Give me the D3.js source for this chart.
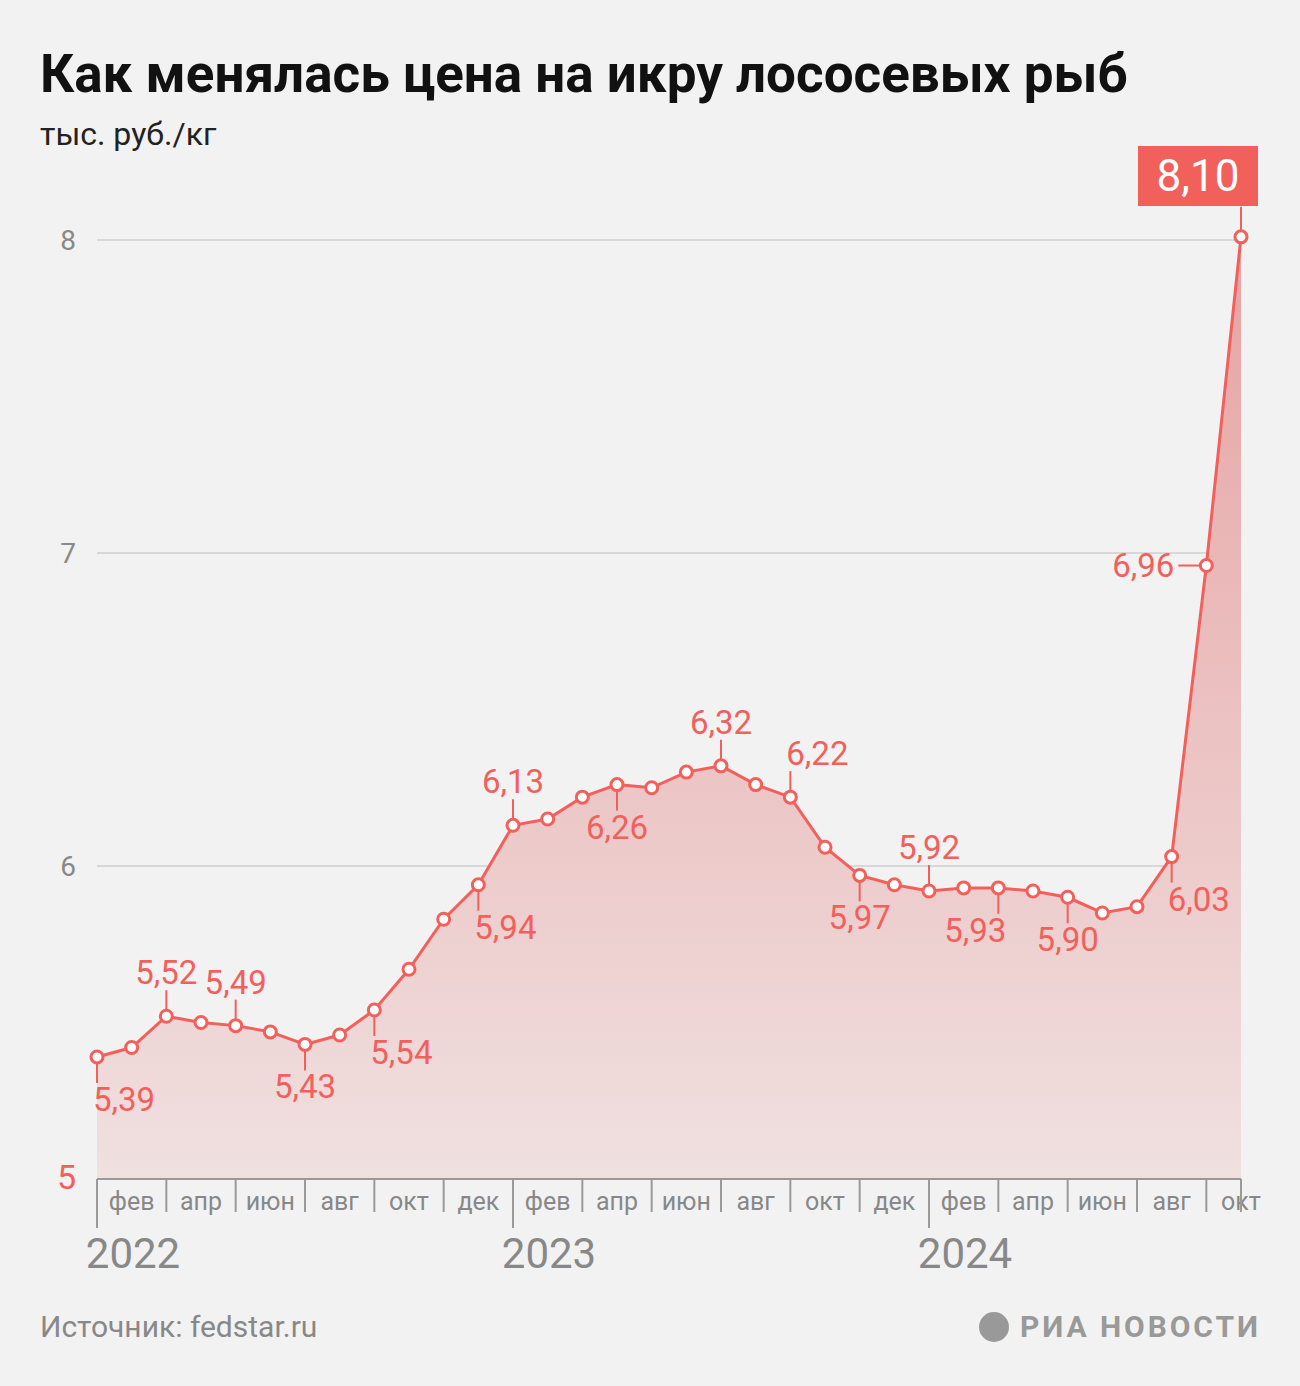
<!DOCTYPE html>
<html><head><meta charset="utf-8">
<script src="https://cdn.jsdelivr.net/npm/d3@7"></script>
<style>body{margin:0;background:#f2f2f2;font-family:Roboto,sans-serif}</style>
</head><body><svg id="c" width="1300" height="1386"></svg>
<script>
const months=["янв","фев","мар","апр","май","июн","июл","авг","сен","окт","ноя","дек"];
const years=["2022","2023","2024"];
const values=[5.39,5.42,5.52,5.50,5.49,5.47,5.43,5.46,5.54,5.67,5.83,5.94,
6.13,6.15,6.22,6.26,6.25,6.30,6.32,6.26,6.22,6.06,5.97,5.94,
5.92,5.93,5.93,5.92,5.90,5.85,5.87,6.03,6.96,8.01];
const labelIdx=[0,2,4,6,8,11,12,15,18,20,22,24,26,28,31,32];
const labelPos=["b","a","a","b","b","b","a","b","a","a","b","a","b","b","b","l"];
const labelAnchor=["start","middle","middle","middle","start","start","middle","middle","middle","start","middle","middle","end","middle","start","end"];
const lastLabel="8,10";
const yTicks=[5,6,7,8];
const red="#f2605c";
const svg=d3.select("#c");
svg.append("text").attr("x",40).attr("y",92).attr("font-size",53).attr("font-weight",700).attr("fill","#111").text("Как менялась цена на икру лососевых рыб");
svg.append("text").attr("x",40).attr("y",145).attr("font-size",32).attr("fill","#222").text("тыс. руб./кг");
const x=d3.scaleLinear().domain([0,33]).range([97,1241]);
const y=d3.scaleLinear().domain([5,8]).range([1179,240]);
const defs=svg.append("defs");
const g=defs.append("linearGradient").attr("id","gr").attr("x1",0).attr("x2",0).attr("y1",0).attr("y2",1);
g.append("stop").attr("offset",0).attr("stop-color","#e7a2a2");
g.append("stop").attr("offset",1).attr("stop-color","#f0e0e0");
yTicks.slice(1).forEach(t=>svg.append("line").attr("x1",97).attr("x2",1241).attr("y1",y(t)).attr("y2",y(t)).attr("stroke","#d8d8d8").attr("stroke-width",2));
yTicks.forEach(t=>svg.append("text").attr("x",76).attr("y",y(t)+10).attr("text-anchor","end").attr("font-size",t==5?34:28).attr("fill",t==5?red:"#888").text(t));
svg.append("path").datum(values).attr("fill","url(#gr)").attr("d",d3.area().x((d,i)=>x(i)).y0(y(5)).y1(d=>y(d)));
svg.append("line").attr("x1",97).attr("x2",1241).attr("y1",1179).attr("y2",1179).attr("stroke","#999").attr("stroke-width",2);
values.forEach((v,i)=>{
  const m=i%12;
  if(m===0){svg.append("line").attr("x1",x(i)).attr("x2",x(i)).attr("y1",1179).attr("y2",1228).attr("stroke","#999").attr("stroke-width",2);
    svg.append("text").attr("x",x(i)+36).attr("y",1268).attr("text-anchor","middle").attr("font-size",42).attr("fill","#888").text(years[i/12|0]);}
  else if(m%2===0){svg.append("line").attr("x1",x(i)).attr("x2",x(i)).attr("y1",1179).attr("y2",1212).attr("stroke","#999").attr("stroke-width",2);}
  if(m%2===1) svg.append("text").attr("x",x(i)).attr("y",1210).attr("text-anchor","middle").attr("font-size",25).attr("fill","#888").text(months[m]);
});
svg.append("line").attr("x1",1241).attr("x2",1241).attr("y1",1179).attr("y2",1212).attr("stroke","#999").attr("stroke-width",2);
const fmt=v=>v.toFixed(2).replace(".",",");
labelIdx.forEach((i,k)=>{
  const px=x(i),py=y(values[i]),p=labelPos[k];
  if(p==="l"){svg.append("line").attr("x1",px-28).attr("x2",px).attr("y1",py).attr("y2",py).attr("stroke",red).attr("stroke-width",2);
    svg.append("text").attr("x",px-32).attr("y",py+11).attr("text-anchor","end").attr("font-size",33).attr("fill",red).text(fmt(values[i]));return;}
  const d=p==="a"?-1:1;
  svg.append("line").attr("x1",px).attr("x2",px).attr("y1",py).attr("y2",py+d*26).attr("stroke",red).attr("stroke-width",2);
  let tx=labelAnchor[k]==="start"?px-4:labelAnchor[k]==="end"?px+8:px;
  svg.append("text").attr("x",tx).attr("y",p==="a"?py-32:py+54).attr("text-anchor",labelAnchor[k]).attr("font-size",33).attr("fill",red).text(fmt(values[i]));
});
svg.append("path").datum(values).attr("fill","none").attr("stroke",red).attr("stroke-width",3).attr("d",d3.line().x((d,i)=>x(i)).y(d=>y(d)));
const lx=x(33),ly=y(values[33]);
svg.append("line").attr("x1",lx).attr("x2",lx).attr("y1",ly).attr("y2",ly-30).attr("stroke",red).attr("stroke-width",2);
svg.append("rect").attr("x",lx-103).attr("y",146).attr("width",120).attr("height",60).attr("fill",red);
svg.append("text").attr("x",lx-43).attr("y",191).attr("text-anchor","middle").attr("font-size",44).attr("fill","#fff").text(lastLabel);
svg.selectAll("circle.p").data(values).join("circle").attr("cx",(d,i)=>x(i)).attr("cy",d=>y(d)).attr("r",6).attr("fill","#fff").attr("stroke",red).attr("stroke-width",3);
svg.append("text").attr("x",40).attr("y",1337).attr("font-size",30).attr("fill","#888").text("Источник: fedstar.ru");
svg.append("circle").attr("cx",994).attr("cy",1327).attr("r",15).attr("fill","#999");
svg.append("text").attr("x",1258).attr("y",1337).attr("text-anchor","end").attr("font-size",30).attr("font-weight",700).attr("fill","#999").attr("textLength",238).text("РИА НОВОСТИ");
</script></body></html>
